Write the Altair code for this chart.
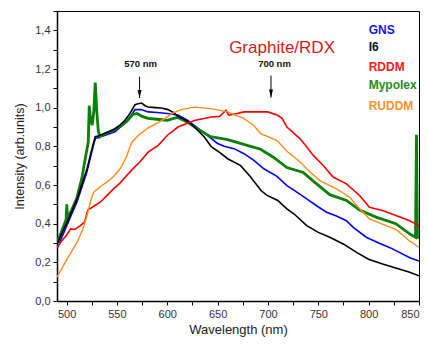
import altair as alt
import pandas as pd

# ---- data ----
gns_wl = [490.5, 500.6, 510.5, 520.3, 525.2, 528.5, 537, 548, 558, 563, 568, 574, 581, 590, 600, 610.6, 620, 630, 640, 650,
          656.5, 666.4, 676.2, 686, 695.9, 709, 718.8, 725.4, 738.5, 749, 758.2, 768, 777.9, 785, 797.6, 810, 821.2, 840.9, 850]
gns_val = [0.27, 0.395, 0.515, 0.67, 0.775, 0.84, 0.855, 0.875, 0.92, 0.95, 0.99, 0.99, 0.978, 0.975, 0.97, 0.962, 0.935, 0.895, 0.855, 0.815,
           0.80, 0.788, 0.762, 0.727, 0.684, 0.645, 0.597, 0.575, 0.528, 0.49, 0.459, 0.44, 0.415, 0.38, 0.33, 0.30, 0.276, 0.224, 0.207]

i6_wl = [490.5, 500.6, 510.5, 520.3, 525.2, 528.5, 532, 537, 542, 548, 553, 558, 563, 567.9, 571, 574.5, 578, 581, 588, 594,
         600.7, 606, 610.6, 620.4, 627, 636.8, 643.4, 653.6, 660, 672.9, 682.8, 693.3, 699.2, 709.7, 718.8, 726, 738.5, 750, 761.4,
         775.2, 788.4, 799.9, 814.6, 831, 840, 850]
i6_val = [0.295, 0.408, 0.528, 0.684, 0.788, 0.85, 0.855, 0.865, 0.875, 0.89, 0.91, 0.935, 0.97, 1.015, 1.02, 1.024, 1.01, 1.003, 1.0, 0.998,
          0.99, 0.975, 0.955, 0.93, 0.9, 0.848, 0.80, 0.762, 0.736, 0.70, 0.641, 0.57, 0.546, 0.52, 0.477, 0.45, 0.39, 0.355, 0.33,
          0.294, 0.25, 0.216, 0.19, 0.164, 0.15, 0.13]

rddm_wl = [490.5, 495, 500, 504, 508, 513.8, 518, 521, 527, 533.5, 540, 546.6, 553, 559.7, 567, 573, 581, 591, 600.7, 610.6,
           627, 643.4, 652, 656, 658.2, 661, 665, 676.2, 690, 699.8, 709, 714, 718.8, 725.4, 731.9, 738, 745, 754.9, 764.7,
           777.9, 791, 800.8, 813.7, 827.1, 840.2, 850]
rddm_val = [0.278, 0.31, 0.34, 0.373, 0.37, 0.39, 0.41, 0.47, 0.49, 0.511, 0.545, 0.58, 0.61, 0.649, 0.69, 0.72, 0.77, 0.805, 0.86, 0.90,
            0.934, 0.952, 0.955, 0.975, 0.986, 0.962, 0.965, 0.978, 0.978, 0.978, 0.962, 0.945, 0.90, 0.87, 0.839, 0.80, 0.753, 0.701, 0.641,
            0.606, 0.546, 0.485, 0.468, 0.442, 0.416, 0.39]

myp_wl = [490.5, 495, 499.5, 500.2, 501, 505, 510, 515, 519, 521.5, 522.5, 524, 525.5, 527, 528.5, 530, 531.5, 533, 536, 540,
          545, 550, 555, 560, 566, 570, 575, 581, 590, 600, 610, 620, 630, 643, 660, 676, 692.6, 705, 718.8, 735,
          745, 761.4, 778, 791, 807.4, 827, 840, 846.5, 847.5, 848.5, 850]
myp_val = [0.30, 0.36, 0.42, 0.50, 0.43, 0.47, 0.53, 0.63, 0.75, 0.82, 1.01, 0.93, 0.91, 0.98, 1.13, 0.98, 0.88, 0.85, 0.86, 0.87,
           0.88, 0.895, 0.91, 0.93, 0.965, 0.97, 0.955, 0.945, 0.94, 0.935, 0.95, 0.925, 0.89, 0.85, 0.835, 0.81, 0.785, 0.745, 0.69, 0.665,
           0.62, 0.55, 0.52, 0.47, 0.434, 0.40, 0.35, 0.33, 0.86, 0.33, 0.325]

ruddm_wl = [490.5, 500.6, 510.5, 516, 520.3, 524, 526.9, 533, 540, 546, 553.2, 559, 564.6, 572, 581, 590, 597.5, 605, 613.8, 627,
            643.4, 659.8, 676.2, 686, 692.6, 700, 709, 718.8, 731.9, 741.8, 751.6, 768, 781.1, 791, 800.8, 817.3, 827.1, 840.2, 850]
ruddm_val = [0.123, 0.218, 0.304, 0.37, 0.442, 0.52, 0.563, 0.59, 0.615, 0.64, 0.684, 0.74, 0.82, 0.86, 0.895, 0.92, 0.943, 0.97, 0.99, 1.003,
             0.995, 0.978, 0.943, 0.908, 0.865, 0.85, 0.83, 0.775, 0.719, 0.667, 0.623, 0.58, 0.537, 0.477, 0.425, 0.39, 0.37, 0.312, 0.278]

series_names = ["GNS", "Mypolex", "I6", "RDDM", "RUDDM"]
series_colors = {"GNS": "#0000FF", "I6": "#000000", "RDDM": "#FF0000", "Mypolex": "#0A800A", "RUDDM": "#FF8C1A"}
series_widths = {"GNS": 1.6, "I6": 1.6, "RDDM": 1.6, "Mypolex": 2.8, "RUDDM": 1.4}
series_data = {
    "GNS": (gns_wl, gns_val), "I6": (i6_wl, i6_val), "RDDM": (rddm_wl, rddm_val),
    "Mypolex": (myp_wl, myp_val), "RUDDM": (ruddm_wl, ruddm_val),
}

legend_names = ["GNS", "I6", "RDDM", "Mypolex", "RUDDM"]
legend_colors = ["#1515E6", "#111111", "#FF1A1A", "#1E8C1E", "#FF9030"]
legend_x = [800, 800, 800, 800, 800]
legend_y = [1.400, 1.313, 1.210, 1.119, 1.011]

peak_labels = ["570 nm", "700 nm"]
peak_text_x = [573.5, 706.5]
peak_text_y = [1.224, 1.228]
arrow_x = [572.5, 703.0]
arrow_top = [1.160, 1.166]
arrow_tip = [1.050, 1.052]

title_text = "Graphite/RDX"
x_ticks = list(range(500, 851, 25))
y_ticks = [round(i * 0.1, 1) for i in range(0, 16)]

FONT = "Liberation Sans"

xscale = alt.Scale(domain=[490.5, 850], nice=False, zero=False)
yscale = alt.Scale(domain=[0, 1.5], nice=False)

xaxis = alt.Axis(values=x_ticks, labelExpr="datum.value % 50 == 0 ? datum.label : ''",
                 title="Wavelength (nm)", grid=False, tickSize=4, tickColor="black",
                 domainColor="black", domainWidth=1.5, labelFont=FONT, labelFontSize=11,
                 labelColor="#333333", titleFont=FONT, titleFontSize=13, titleFontWeight="normal",
                 titleColor="#222222", labelPadding=3, titlePadding=4, format="d")
yaxis = alt.Axis(values=y_ticks,
                 labelExpr="(round(datum.value*10) % 2 == 0 && datum.value < 1.45) ? replace(format(datum.value, '.1f'), '.', ',') : ''",
                 title="Intensity (arb.units)", grid=False, tickSize=4, tickColor="black",
                 domainColor="black", domainWidth=1.5, labelFont=FONT, labelFontSize=11,
                 labelColor="#333333", titleFont=FONT, titleFontSize=12.5, titleFontWeight="normal",
                 titleColor="#222222", labelPadding=3, titlePadding=8)


def X(field):
    return alt.X(field, type="quantitative", scale=xscale, axis=xaxis)


def Y(field):
    return alt.Y(field, type="quantitative", scale=yscale, axis=yaxis)


layers = []
for name in series_names:
    wl, val = series_data[name]
    df = pd.DataFrame({"wl": wl, "val": val, "series": name})
    layers.append(alt.Chart(df).mark_line(color=series_colors[name], strokeWidth=series_widths[name],
                                          clip=True).encode(x=X("wl"), y=Y("val"), order=alt.Order("wl:Q")))

leg_df = pd.DataFrame({"name": legend_names, "col": legend_colors, "x": legend_x, "y": legend_y})
legend_layer = alt.Chart(leg_df).mark_text(align="left", baseline="middle", font=FONT, fontSize=12,
                                           fontWeight="bold").encode(
    x=X("x"), y=Y("y"), text="name:N", color=alt.Color("col:N", scale=None))

peak_df = pd.DataFrame({"t": peak_labels, "x": peak_text_x, "y": peak_text_y,
                        "ax": arrow_x, "a1": arrow_top, "a2": arrow_tip})
peak_text = alt.Chart(peak_df).mark_text(align="center", baseline="middle", font=FONT, fontSize=9.5,
                                         fontWeight="bold", color="#111111").encode(
    x=X("x"), y=Y("y"), text="t:N")
arrow_line = alt.Chart(peak_df).mark_rule(color="black", strokeWidth=1).encode(
    x=X("ax"), y=Y("a1"), y2="a2:Q")
arrow_head = alt.Chart(peak_df).mark_point(shape="M-0.5,-2 L0.5,-2 L0,0 Z", size=64, filled=True,
                                           color="black", opacity=1).encode(
    x=X("ax"), y=Y("a2"))

title_df = pd.DataFrame({"t": [title_text], "x": [714.0], "y": [1.311]})
title_layer = alt.Chart(title_df).mark_text(align="center", baseline="middle", font=FONT, fontSize=17,
                                            color="#D02020").encode(
    x=X("x"), y=Y("y"), text="t:N")

chart = alt.layer(*layers, legend_layer, peak_text, arrow_line, arrow_head, title_layer).properties(
    width=362, height=290,
    autosize=alt.AutoSizeParams(type="none"),
    padding={"left": 49, "top": 3, "right": 1, "bottom": 36},
    background="white",
).configure_view(stroke="black", strokeWidth=1)

chart.save("out.html", embed_options={"renderer": "svg", "actions": False})
